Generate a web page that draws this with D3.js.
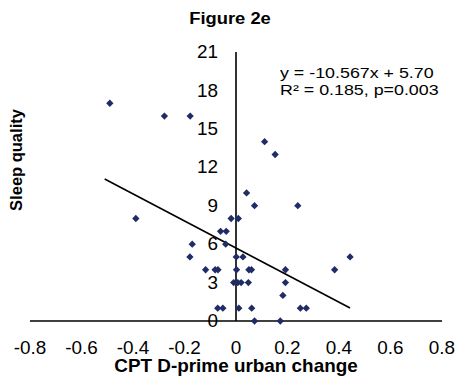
<!DOCTYPE html>
<html>
<head>
<meta charset="utf-8">
<script src="https://cdn.jsdelivr.net/npm/d3@7"></script>
<style>
  html, body { margin: 0; padding: 0; background: #fff; }
  svg { display: block; font-family: Arial, "Liberation Sans", sans-serif; }
</style>
</head>
<body>
<script>
// ---- data ----
const xValues = [-0.49,-0.278,-0.178,0.111,0.152,0.041,0.072,0.24,-0.389,-0.019,0.009,-0.06,-0.038,-0.17,-0.04,
  -0.179,0.001,0.027,0.443,-0.118,-0.081,-0.07,0.002,0.05,0.06,0.192,0.383,-0.009,0.007,0.02,0.048,0.192,
  0.182,-0.071,-0.051,0.011,0.061,0.25,0.273,0.072,0.172];
const yValues = [17,16,16,14,13,10,9,9,8,8,8,7,7,6,6,
  5,5,5,5,4,4,4,4,4,4,4,4,3,3,3,3,3,
  2,1,1,1,1,1,1,0,0];
const xTicks = [-0.8,-0.6,-0.4,-0.2,0,0.2,0.4,0.6,0.8];
const yTicks = [0,3,6,9,12,15,18,21];
const trendSlope = -10.567, trendIntercept = 5.70;
const trendRange = [-0.51, 0.443];
const titleText = "Figure 2e";
const xTitle = "CPT D-prime urban change";
const yTitle = "Sleep quality";
const eqLines = ["y = -10.567x + 5.70", "R\u00B2 = 0.185, p=0.003"];

// ---- layout ----
const W = 458, H = 381;
const SX = 1.08; // horizontal text stretch seen in reference
const x = d3.scaleLinear().domain([-0.8, 0.8]).range([30, 442]);
const y = d3.scaleLinear().domain([0, 21]).range([321, 52]);

const svg = d3.select("body").append("svg").attr("width", W).attr("height", H);
svg.append("rect").attr("width", W).attr("height", H).attr("fill", "#fff");

function txt(sel, s, px, py, opts) {
  const t = sel.append("text")
    .attr("transform", `translate(${px},${py}) scale(${opts.sx || SX},1)` + (opts.rot ? ` rotate(${opts.rot})` : ""))
    .attr("text-anchor", opts.anchor || "start")
    .attr("font-size", opts.size)
    .attr("font-weight", opts.bold ? "bold" : "normal")
    .attr("fill", "#000")
    .text(s);
  if (opts.dy) t.attr("dy", opts.dy);
  return t;
}

// axes lines (crossing at 0)
svg.append("line").attr("x1", x(-0.8)).attr("x2", x(0.8)).attr("y1", y(0)).attr("y2", y(0))
  .attr("stroke", "#000").attr("stroke-width", 1.6);
svg.append("line").attr("x1", x(0)).attr("x2", x(0)).attr("y1", y(21)).attr("y2", y(0))
  .attr("stroke", "#000").attr("stroke-width", 1.6);

// tick labels
const fmt = v => v === 0 ? "0" : d3.format(".1f")(v).replace("\u2212", "-");
const gx = svg.append("g");
xTicks.forEach(v => txt(gx, fmt(v), x(v), 354, {size: 17.5, anchor: "middle"}));
const gy = svg.append("g");
yTicks.forEach(v => txt(gy, String(v), 218, y(v), {size: 17.5, anchor: "end", dy: "0.35em"}));

// trend line
svg.append("line")
  .attr("x1", x(trendRange[0])).attr("y1", y(trendSlope * trendRange[0] + trendIntercept))
  .attr("x2", x(trendRange[1])).attr("y2", y(trendSlope * trendRange[1] + trendIntercept))
  .attr("stroke", "#000").attr("stroke-width", 1.6);

// points (diamonds)
const diamond = d3.symbol().type(d3.symbolDiamond2).size(34);
svg.append("g").selectAll("path").data(xValues.map((v, i) => [v, yValues[i]])).join("path")
  .attr("d", diamond)
  .attr("transform", d => `translate(${x(d[0])},${y(d[1])})`)
  .attr("fill", "#1f2c66");

// titles
txt(svg, titleText, 230, 24, {size: 17, bold: true, anchor: "middle"});
txt(svg, xTitle, 236, 372, {size: 17.5, bold: true, anchor: "middle"});
txt(svg, yTitle, 22, 160, {size: 16.5, bold: true, anchor: "middle", rot: -90, sx: 1});

// equation
eqLines.forEach((s, i) => txt(svg, s, 280, 77.5 + i * 17, {size: 15, sx: 1.19}));
</script>
</body>
</html>
